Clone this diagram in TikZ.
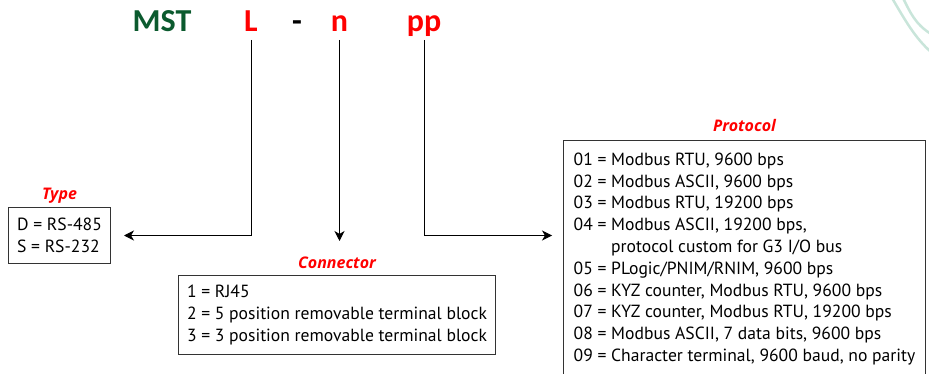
\documentclass[tikz,border=0pt]{standalone}
\usepackage{fontspec}
\setmainfont{PT Sans}
\newfontfamily\titlefont{Carlito}
\newfontfamily\labelfont{Open Sans}
\usetikzlibrary{positioning,arrows.meta}
\definecolor{mstgreen}{HTML}{0B5A2E}
\definecolor{codered}{HTML}{FF0000}
\definecolor{swoosh}{HTML}{C9E5DA}

\begin{document}
\begin{tikzpicture}[x=1pt,y=-1pt,line width=1pt,font=\fontsize{17.6}{21.8}\selectfont,
  codepart/.style={font=\titlefont\fontsize{32}{32}\selectfont\bfseries,inner sep=0pt,anchor=base},
  listbox/.style={draw=black!80,align=left,anchor=north west,inner sep=0pt},
  boxlabel/.style={text=codered,font=\labelfont\fontsize{16}{16}\selectfont\bfseries\itshape,inner sep=0pt,text height=11.5pt,text depth=3.5pt},
  arr/.style={-{Stealth[length=10pt,width=10pt,inset=3pt]}}]
  \useasboundingbox (0,0) rectangle (929,374);
  \draw[swoosh,line width=2.5pt] (892,-2) .. controls (905,20) and (915,38) .. (931,52);
  \draw[swoosh,line width=2.5pt] (903,-2) .. controls (910,12) and (915,24) .. (931,34);
  \node[codepart,text=mstgreen] (mst) at (162,32) {MST};
  \node[codepart,text=codered] (codeL) at (251,32) {L};
  \node[codepart] (dash) at (297,32) {-};
  \node[codepart,text=codered] (coden) at (339.5,32) {n};
  \node[codepart,text=codered] (codepp) at (424,32) {pp};
  \node[listbox,minimum width=102,minimum height=56] (typebox) at (8,207) {D = RS-485\\S = RS-232};
  \node[listbox,minimum width=317,minimum height=79] (connbox) at (178,275) {1 = RJ45\\2 = 5 position removable terminal block\\3 = 3 position removable terminal block};
  \node[listbox,minimum width=362,minimum height=237] (protbox) at (563,140) {01 = Modbus RTU, 9600 bps\\02 = Modbus ASCII, 9600 bps\\03 = Modbus RTU, 19200 bps\\04 = Modbus ASCII, 19200 bps,\\\phantom{04 = }protocol custom for G3 I/O bus\\05 = PLogic/PNIM/RNIM, 9600 bps\\06 = KYZ counter, Modbus RTU, 9600 bps\\07 = KYZ counter, Modbus RTU, 19200 bps\\08 = Modbus ASCII, 7 data bits, 9600 bps\\09 = Character terminal, 9600 baud, no parity};
  \node[boxlabel,above=3pt of typebox] (typelbl) {Type};
  \node[boxlabel,above=2pt of connbox] (connlbl) {Connector};
  \node[boxlabel,above=4pt of protbox] (protlbl) {Protocol};
  \draw[arr,shorten >=13pt] ([yshift=-8pt]codeL.base) |- (typebox.east);
  \draw[arr,shorten >=16pt] ([yshift=-8pt]coden.base) -- (coden.base |- connlbl.north);
  \draw[arr,shorten >=11pt] ([yshift=-8pt]codepp.base) |- (protbox.west |- typebox.east);
\end{tikzpicture}
\end{document}
